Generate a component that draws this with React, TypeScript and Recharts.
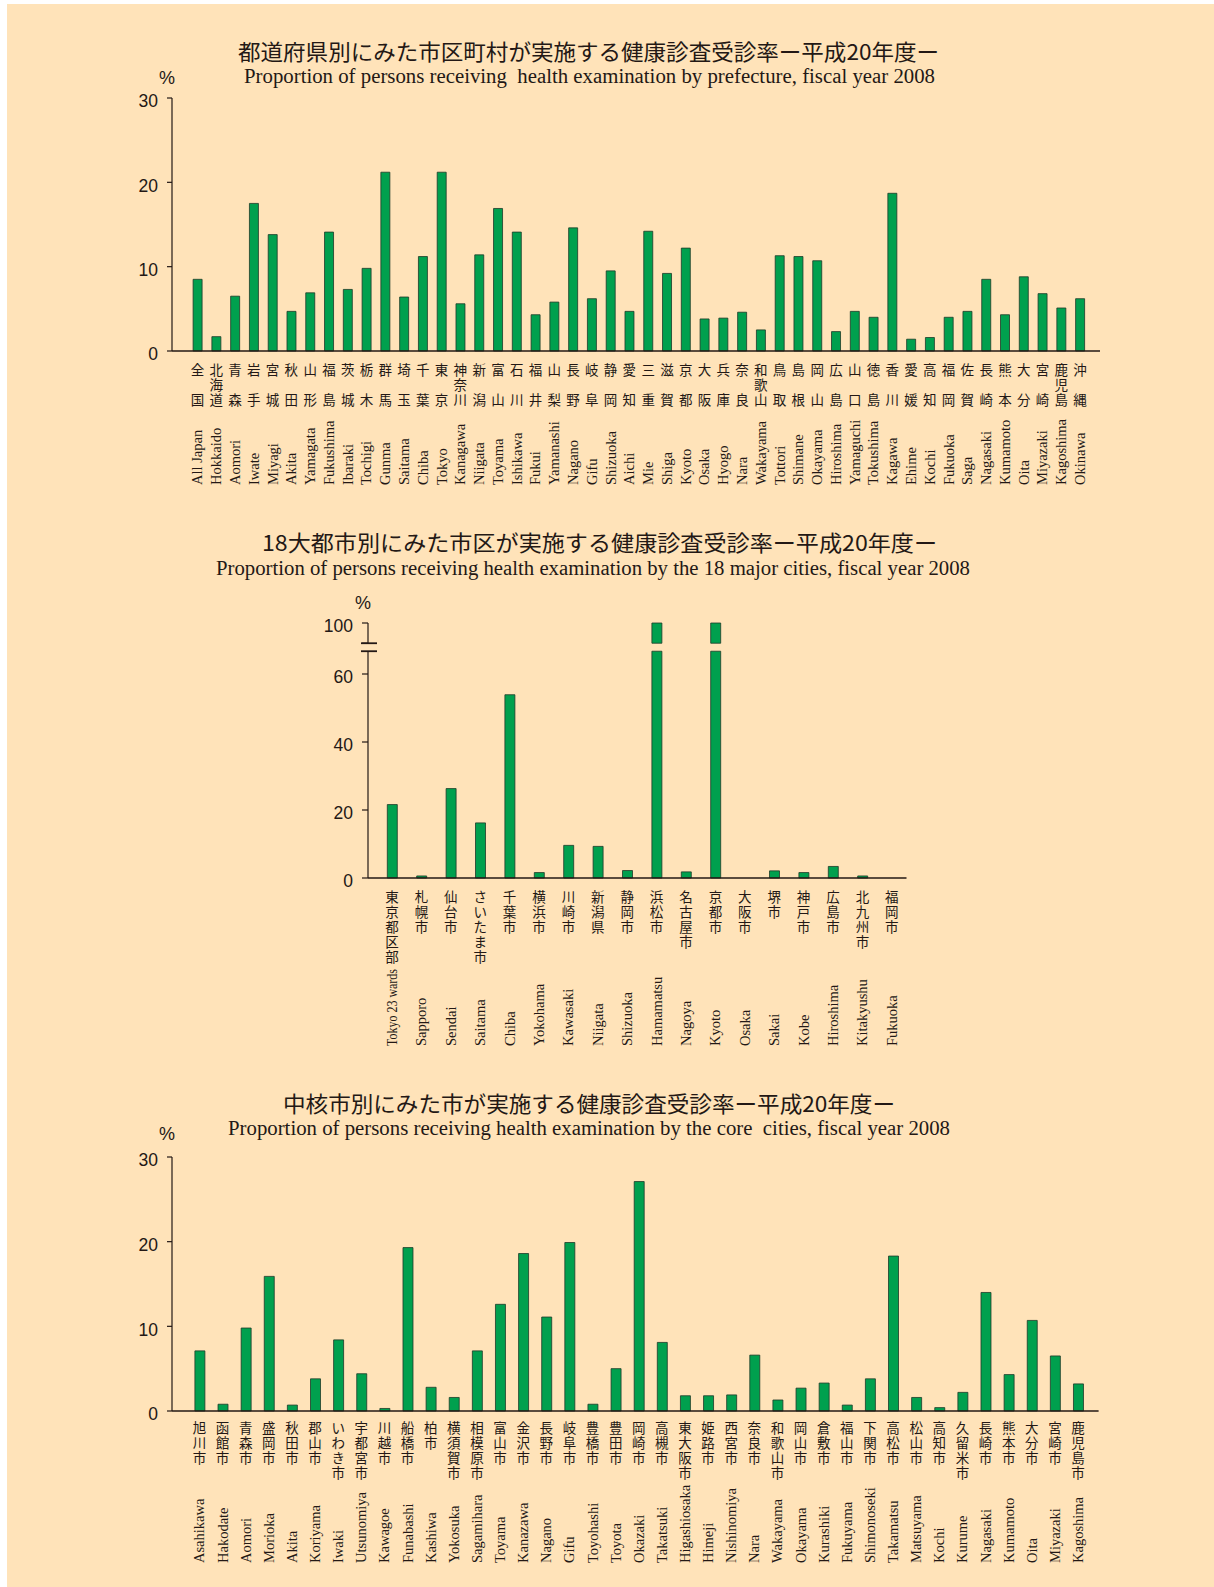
import { Bar, BarChart, XAxis, YAxis } from 'recharts'

const BG = '#ffe3b9'
const INK = '#231815'
const BAR_FILL = '#00a04e'
const BAR_EDGE = '#1d3a28'
const JP = '"Noto Sans CJK JP", "Noto Sans", sans-serif'
const SERIF = '"Liberation Serif", "DejaVu Serif", serif'
const SANS = '"Liberation Sans", Arial, sans-serif'

// chart 1: prefectures
const prefJa = ['全国', '北海道', '青森', '岩手', '宮城', '秋田', '山形', '福島', '茨城', '栃木', '群馬', '埼玉', '千葉', '東京', '神奈川', '新潟', '富山', '石川', '福井', '山梨', '長野', '岐阜', '静岡', '愛知', '三重', '滋賀', '京都', '大阪', '兵庫', '奈良', '和歌山', '鳥取', '島根', '岡山', '広島', '山口', '徳島', '香川', '愛媛', '高知', '福岡', '佐賀', '長崎', '熊本', '大分', '宮崎', '鹿児島', '沖縄']
const prefEn = ['All Japan', 'Hokkaido', 'Aomori', 'Iwate', 'Miyagi', 'Akita', 'Yamagata', 'Fukushima', 'Ibaraki', 'Tochigi', 'Gunma', 'Saitama', 'Chiba', 'Tokyo', 'Kanagawa', 'Niigata', 'Toyama', 'Ishikawa', 'Fukui', 'Yamanashi', 'Nagano', 'Gifu', 'Shizuoka', 'Aichi', 'Mie', 'Shiga', 'Kyoto', 'Osaka', 'Hyogo', 'Nara', 'Wakayama', 'Tottori', 'Shimane', 'Okayama', 'Hiroshima', 'Yamaguchi', 'Tokushima', 'Kagawa', 'Ehime', 'Kochi', 'Fukuoka', 'Saga', 'Nagasaki', 'Kumamoto', 'Oita', 'Miyazaki', 'Kagoshima', 'Okinawa']
const prefRate = [8.5, 1.7, 6.5, 17.5, 13.8, 4.7, 6.9, 14.1, 7.3, 9.8, 21.2, 6.4, 11.2, 21.2, 5.6, 11.4, 16.9, 14.1, 4.3, 5.8, 14.6, 6.2, 9.5, 4.7, 14.2, 9.2, 12.2, 3.8, 3.9, 4.6, 2.5, 11.3, 11.2, 10.7, 2.3, 4.7, 4.0, 18.7, 1.4, 1.6, 4.0, 4.7, 8.5, 4.3, 8.8, 6.8, 5.1, 6.2]

// chart 2: 18 major cities (Hamamatsu and Kyoto run past the axis break)
const majorJa = ['東京都区部', '札幌市', '仙台市', 'さいたま市', '千葉市', '横浜市', '川崎市', '新潟県', '静岡市', '浜松市', '名古屋市', '京都市', '大阪市', '堺市', '神戸市', '広島市', '北九州市', '福岡市']
const majorEn = ['Tokyo 23 wards', 'Sapporo', 'Sendai', 'Saitama', 'Chiba', 'Yokohama', 'Kawasaki', 'Niigata', 'Shizuoka', 'Hamamatsu', 'Nagoya', 'Kyoto', 'Osaka', 'Sakai', 'Kobe', 'Hiroshima', 'Kitakyushu', 'Fukuoka']
const majorRate: (number | null)[] = [21.6, 0.6, 26.3, 16.2, 53.9, 1.6, 9.6, 9.3, 2.2, 100, 1.8, 100, null, 2.1, 1.6, 3.4, 0.6, null]

// chart 3: core cities
const coreJa = ['旭川市', '函館市', '青森市', '盛岡市', '秋田市', '郡山市', 'いわき市', '宇都宮市', '川越市', '船橋市', '柏市', '横須賀市', '相模原市', '富山市', '金沢市', '長野市', '岐阜市', '豊橋市', '豊田市', '岡崎市', '高槻市', '東大阪市', '姫路市', '西宮市', '奈良市', '和歌山市', '岡山市', '倉敷市', '福山市', '下関市', '高松市', '松山市', '高知市', '久留米市', '長崎市', '熊本市', '大分市', '宮崎市', '鹿児島市']
const coreEn = ['Asahikawa', 'Hakodate', 'Aomori', 'Morioka', 'Akita', 'Koriyama', 'Iwaki', 'Utsunomiya', 'Kawagoe', 'Funabashi', 'Kashiwa', 'Yokosuka', 'Sagamihara', 'Toyama', 'Kanazawa', 'Nagano', 'Gifu', 'Toyohashi', 'Toyota', 'Okazaki', 'Takatsuki', 'Higashiosaka', 'Himeji', 'Nishinomiya', 'Nara', 'Wakayama', 'Okayama', 'Kurashiki', 'Fukuyama', 'Shimonoseki', 'Takamatsu', 'Matsuyama', 'Kochi', 'Kurume', 'Nagasaki', 'Kumamoto', 'Oita', 'Miyazaki', 'Kagoshima']
const coreRate = [7.1, 0.8, 9.8, 15.9, 0.7, 3.8, 8.4, 4.4, 0.3, 19.3, 2.8, 1.6, 7.1, 12.6, 18.6, 11.1, 19.9, 0.8, 5.0, 27.1, 8.1, 1.8, 1.8, 1.9, 6.6, 1.3, 2.7, 3.3, 0.7, 3.8, 18.3, 1.6, 0.4, 2.2, 14.0, 4.3, 10.7, 6.5, 3.2]

const pctTicks = [0, 10, 20, 30]

// broken axis for chart 2: "100" is drawn at AXIS_TOP
const AXIS_TOP = 75
const BREAK_LO = 66.7
const BREAK_HI = 69.05
const PLOT2_H = 255
const majorTicks = [0, 20, 40, 60, BREAK_HI, AXIS_TOP]

// long english labels squeezed to the length seen in the picture
const enFit: Record<string, number> = { 'Tokyo 23 wards': 77 }

const prefData = prefEn.map((en, i) => ({ en, rate: prefRate[i] }))
const coreData = coreEn.map((en, i) => ({ en, rate: coreRate[i] }))
const majorData = majorEn.map((en, i) => {
  const v = majorRate[i]
  if (v == null) return { en, low: null, gap: null, high: null }
  if (v > BREAK_LO) return { en, low: BREAK_LO, gap: BREAK_HI - BREAK_LO, high: AXIS_TOP - BREAK_HI }
  return { en, low: v, gap: null, high: null }
})

function makeCatTick(ja: string[], en: string[], rowOffsets: number[], enOffset: number, spread: boolean) {
  return function CatTick(props: any) {
    const { x, y, payload } = props
    const i = payload.index
    const chars = Array.from(ja[i] ?? '')
    const rows = spread && chars.length === 2 ? [0, 2] : chars.map((_, k) => k)
    const fit = enFit[en[i]]
    return (
      <g>
        {chars.map((c, k) => (
          <text key={k} x={x} y={y + rowOffsets[rows[k]]} textAnchor="middle" dominantBaseline="central"
            fontFamily={JP} fontSize={13.5} fill={INK}>
            {c}
          </text>
        ))}
        <text transform={`translate(${x},${y + enOffset}) rotate(-90)`} textAnchor="start" dominantBaseline="central"
          fontFamily={SERIF} fontSize={14.5} fill={INK}
          {...(fit ? { textLength: fit, lengthAdjust: 'spacingAndGlyphs' } : {})}>
          {en[i]}
        </text>
      </g>
    )
  }
}

const PrefTick = makeCatTick(prefJa, prefEn, [17.5, 32.5, 47.5], 134, true)
const MajorTick = makeCatTick(majorJa, majorEn, [18, 33, 48, 63, 78], 168, false)
const CoreTick = makeCatTick(coreJa, coreEn, [16, 31, 46, 61], 152, false)

function BreakTick(props: any) {
  const { x, y, payload } = props
  const v = payload.value
  const ax = x + 15
  if (v === BREAK_HI) {
    const gapPx = ((BREAK_HI - BREAK_LO) * PLOT2_H) / AXIS_TOP
    return (
      <g>
        <rect x={ax - 2} y={y} width={4} height={gapPx} fill={BG} />
        <line x1={ax - 7} x2={ax + 9} y1={y} y2={y} stroke={INK} strokeWidth={1.8} />
        <line x1={ax - 7} x2={ax + 9} y1={y + gapPx} y2={y + gapPx} stroke={INK} strokeWidth={1.8} />
      </g>
    )
  }
  return (
    <text x={x} y={y + 3} textAnchor="end" dominantBaseline="central" fontFamily={SANS} fontSize={17.5} fill={INK}>
      {v === AXIS_TOP ? '100' : v}
    </text>
  )
}

const yTickStyle = { fill: INK, fontSize: 17.5, fontFamily: SANS }
const axisStroke = { stroke: INK, strokeWidth: 1.2 }

export default function App() {
  return (
    <div style={{ position: 'absolute', left: 0, top: 0, width: 1214, height: 1587, background: '#fff', overflow: 'hidden' }}>
      <div style={{ position: 'absolute', left: 7, top: 4, right: 0, bottom: 0, background: BG }} />

      <div style={{ position: 'absolute', left: 0, top: 0 }}>
        <BarChart width={1110} height={500} data={prefData} margin={{ top: 98, right: 10, left: 0, bottom: 0 }} barSize={9}>
          <XAxis dataKey="en" interval={0} height={149} tickLine={false} tickSize={0} tickMargin={0}
            axisLine={{ stroke: INK, strokeWidth: 1.6 }} padding={{ left: 16.1, right: 10.6 }} tick={PrefTick} />
          <YAxis width={172} domain={[0, 30]} ticks={pctTicks} interval={0} tickSize={5} tickMargin={9}
            axisLine={axisStroke} tickLine={axisStroke} tick={yTickStyle} dy={3} />
          <Bar dataKey="rate" fill={BAR_FILL} stroke={BAR_EDGE} strokeWidth={0.8} isAnimationActive={false} />
        </BarChart>
      </div>

      <div style={{ position: 'absolute', left: 0, top: 560 }}>
        <BarChart width={910} height={498} data={majorData} margin={{ top: 63, right: 3.5, left: 0, bottom: 0 }} barSize={10}>
          <XAxis dataKey="en" interval={0} height={180} tickLine={false} tickSize={0} tickMargin={0}
            axisLine={{ stroke: INK, strokeWidth: 1.6 }} padding={{ left: 9.3, right: 0 }} tick={MajorTick} />
          <YAxis width={368} domain={[0, AXIS_TOP]} ticks={majorTicks} interval={0} tickSize={6} tickMargin={9}
            axisLine={axisStroke} tickLine={axisStroke} tick={BreakTick} />
          <Bar dataKey="low" stackId="m" fill={BAR_FILL} stroke={BAR_EDGE} strokeWidth={0.8} isAnimationActive={false} />
          <Bar dataKey="gap" stackId="m" fill="none" stroke="none" isAnimationActive={false} />
          <Bar dataKey="high" stackId="m" fill={BAR_FILL} stroke={BAR_EDGE} strokeWidth={0.8} isAnimationActive={false} />
        </BarChart>
      </div>

      <div style={{ position: 'absolute', left: 0, top: 1100 }}>
        <BarChart width={1110} height={476} data={coreData} margin={{ top: 57, right: 11.4, left: 0, bottom: 0 }} barSize={10}>
          <XAxis dataKey="en" interval={0} height={165} tickLine={false} tickSize={0} tickMargin={0}
            axisLine={{ stroke: INK, strokeWidth: 1.6 }} padding={{ left: 15.9, right: 9 }} tick={CoreTick} />
          <YAxis width={172} domain={[0, 30]} ticks={pctTicks} interval={0} tickSize={5} tickMargin={9}
            axisLine={axisStroke} tickLine={axisStroke} tick={yTickStyle} dy={3} />
          <Bar dataKey="rate" fill={BAR_FILL} stroke={BAR_EDGE} strokeWidth={0.8} isAnimationActive={false} />
        </BarChart>
      </div>

      <svg width={1214} height={1587} style={{ position: 'absolute', left: 0, top: 0, pointerEvents: 'none' }}>
        <g fill={INK}>
          <text x={238} y={59.5} textLength={701} lengthAdjust="spacingAndGlyphs" fontFamily={JP} fontSize={22}>
            都道府県別にみた市区町村が実施する健康診査受診率ー平成20年度ー
          </text>
          <text x={244} y={83} textLength={691} lengthAdjust="spacingAndGlyphs" fontFamily={SERIF} fontSize={20}
            style={{ whiteSpace: 'pre' }}>
            Proportion of persons receiving  health examination by prefecture, fiscal year 2008
          </text>
          <text x={167} y={77.5} textAnchor="middle" dominantBaseline="central" fontFamily={SANS} fontSize={18}>%</text>

          <text x={262} y={550.5} textLength={675} lengthAdjust="spacingAndGlyphs" fontFamily={JP} fontSize={22}>
            18大都市別にみた市区が実施する健康診査受診率ー平成20年度ー
          </text>
          <text x={216} y={575} textLength={754} lengthAdjust="spacingAndGlyphs" fontFamily={SERIF} fontSize={20}>
            Proportion of persons receiving health examination by the 18 major cities, fiscal year 2008
          </text>
          <text x={363} y={602.5} textAnchor="middle" dominantBaseline="central" fontFamily={SANS} fontSize={18}>%</text>

          <text x={283} y={1111.5} textLength={612} lengthAdjust="spacingAndGlyphs" fontFamily={JP} fontSize={22}>
            中核市別にみた市が実施する健康診査受診率ー平成20年度ー
          </text>
          <text x={228} y={1135} textLength={722} lengthAdjust="spacingAndGlyphs" fontFamily={SERIF} fontSize={20}
            style={{ whiteSpace: 'pre' }}>
            Proportion of persons receiving health examination by the core  cities, fiscal year 2008
          </text>
          <text x={167} y={1134} textAnchor="middle" dominantBaseline="central" fontFamily={SANS} fontSize={18}>%</text>
        </g>
      </svg>
    </div>
  )
}
